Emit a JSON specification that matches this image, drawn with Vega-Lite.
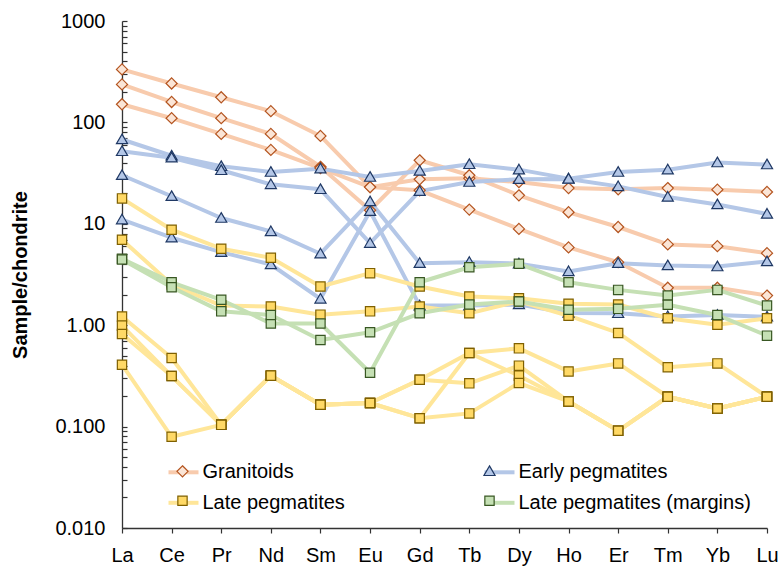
{
  "$schema": "https://vega.github.io/schema/vega-lite/v6.json",
  "width": 645,
  "height": 507,
  "autosize": {"type": "none"},
  "padding": {"left": 122, "top": 21, "right": 14, "bottom": 38},
  "background": "white",
  "config": {
    "view": {"stroke": null},
    "font": "Liberation Sans",
    "axis": {"grid": false, "domainColor": "#333333", "tickColor": "#333333", "domainWidth": 1.3, "tickWidth": 1.2, "labelColor": "#000000", "labelFontSize": 20, "labelFont": "Liberation Sans"}
  },
  "data": {"values": [
    {"sample":"G1","series":"Granitoids","el":"La","v":333},{"sample":"G1","series":"Granitoids","el":"Ce","v":242},{"sample":"G1","series":"Granitoids","el":"Pr","v":177},{"sample":"G1","series":"Granitoids","el":"Nd","v":129},{"sample":"G1","series":"Granitoids","el":"Sm","v":73.5},{"sample":"G1","series":"Granitoids","el":"Eu","v":23.0},{"sample":"G1","series":"Granitoids","el":"Gd","v":27.5},{"sample":"G1","series":"Granitoids","el":"Tb","v":28.1},{"sample":"G1","series":"Granitoids","el":"Dy","v":25.8},{"sample":"G1","series":"Granitoids","el":"Ho","v":22.5},{"sample":"G1","series":"Granitoids","el":"Er","v":21.9},{"sample":"G1","series":"Granitoids","el":"Tm","v":22.5},{"sample":"G1","series":"Granitoids","el":"Yb","v":21.7},{"sample":"G1","series":"Granitoids","el":"Lu","v":20.6},
    {"sample":"G2","series":"Granitoids","el":"La","v":237},{"sample":"G2","series":"Granitoids","el":"Ce","v":159},{"sample":"G2","series":"Granitoids","el":"Pr","v":110},{"sample":"G2","series":"Granitoids","el":"Nd","v":77},{"sample":"G2","series":"Granitoids","el":"Sm","v":36.5},{"sample":"G2","series":"Granitoids","el":"Eu","v":13.6},{"sample":"G2","series":"Granitoids","el":"Gd","v":42.3},{"sample":"G2","series":"Granitoids","el":"Tb","v":30.1},{"sample":"G2","series":"Granitoids","el":"Dy","v":19.1},{"sample":"G2","series":"Granitoids","el":"Ho","v":13.0},{"sample":"G2","series":"Granitoids","el":"Er","v":9.3},{"sample":"G2","series":"Granitoids","el":"Tm","v":6.26},{"sample":"G2","series":"Granitoids","el":"Yb","v":6.02},{"sample":"G2","series":"Granitoids","el":"Lu","v":5.13},
    {"sample":"G3","series":"Granitoids","el":"La","v":151},{"sample":"G3","series":"Granitoids","el":"Ce","v":110},{"sample":"G3","series":"Granitoids","el":"Pr","v":77},{"sample":"G3","series":"Granitoids","el":"Nd","v":53.5},{"sample":"G3","series":"Granitoids","el":"Sm","v":35.5},{"sample":"G3","series":"Granitoids","el":"Eu","v":23.0},{"sample":"G3","series":"Granitoids","el":"Gd","v":21.4},{"sample":"G3","series":"Granitoids","el":"Tb","v":13.8},{"sample":"G3","series":"Granitoids","el":"Dy","v":8.9},{"sample":"G3","series":"Granitoids","el":"Ho","v":5.85},{"sample":"G3","series":"Granitoids","el":"Er","v":4.18},{"sample":"G3","series":"Granitoids","el":"Tm","v":2.34},{"sample":"G3","series":"Granitoids","el":"Yb","v":2.34},{"sample":"G3","series":"Granitoids","el":"Lu","v":1.96},
    {"sample":"E1","series":"Early pegmatites","el":"La","v":67.8},{"sample":"E1","series":"Early pegmatites","el":"Ce","v":46.9},{"sample":"E1","series":"Early pegmatites","el":"Pr","v":36.9},{"sample":"E1","series":"Early pegmatites","el":"Nd","v":32.4},{"sample":"E1","series":"Early pegmatites","el":"Sm","v":35.0},{"sample":"E1","series":"Early pegmatites","el":"Eu","v":28.9},{"sample":"E1","series":"Early pegmatites","el":"Gd","v":33.2},{"sample":"E1","series":"Early pegmatites","el":"Tb","v":38.6},{"sample":"E1","series":"Early pegmatites","el":"Dy","v":34.2},{"sample":"E1","series":"Early pegmatites","el":"Ho","v":27.9},{"sample":"E1","series":"Early pegmatites","el":"Er","v":32.4},{"sample":"E1","series":"Early pegmatites","el":"Tm","v":34.2},{"sample":"E1","series":"Early pegmatites","el":"Yb","v":40.2},{"sample":"E1","series":"Early pegmatites","el":"Lu","v":38.4},
    {"sample":"E2","series":"Early pegmatites","el":"La","v":51.9},{"sample":"E2","series":"Early pegmatites","el":"Ce","v":44.8},{"sample":"E2","series":"Early pegmatites","el":"Pr","v":33.7},{"sample":"E2","series":"Early pegmatites","el":"Nd","v":24.5},{"sample":"E2","series":"Early pegmatites","el":"Sm","v":21.9},{"sample":"E2","series":"Early pegmatites","el":"Eu","v":6.45},{"sample":"E2","series":"Early pegmatites","el":"Gd","v":21.0},{"sample":"E2","series":"Early pegmatites","el":"Tb","v":25.8},{"sample":"E2","series":"Early pegmatites","el":"Dy","v":27.5},{"sample":"E2","series":"Early pegmatites","el":"Ho","v":27.7},{"sample":"E2","series":"Early pegmatites","el":"Er","v":23.4},{"sample":"E2","series":"Early pegmatites","el":"Tm","v":18.4},{"sample":"E2","series":"Early pegmatites","el":"Yb","v":15.5},{"sample":"E2","series":"Early pegmatites","el":"Lu","v":12.5},
    {"sample":"E3","series":"Early pegmatites","el":"La","v":30.1},{"sample":"E3","series":"Early pegmatites","el":"Ce","v":18.7},{"sample":"E3","series":"Early pegmatites","el":"Pr","v":11.4},{"sample":"E3","series":"Early pegmatites","el":"Nd","v":8.41},{"sample":"E3","series":"Early pegmatites","el":"Sm","v":5.07},{"sample":"E3","series":"Early pegmatites","el":"Eu","v":16.6},{"sample":"E3","series":"Early pegmatites","el":"Gd","v":4.09},{"sample":"E3","series":"Early pegmatites","el":"Tb","v":4.18},{"sample":"E3","series":"Early pegmatites","el":"Dy","v":4.05},{"sample":"E3","series":"Early pegmatites","el":"Ho","v":3.39},{"sample":"E3","series":"Early pegmatites","el":"Er","v":4.09},{"sample":"E3","series":"Early pegmatites","el":"Tm","v":3.88},{"sample":"E3","series":"Early pegmatites","el":"Yb","v":3.79},{"sample":"E3","series":"Early pegmatites","el":"Lu","v":4.25},
    {"sample":"E4","series":"Early pegmatites","el":"La","v":11.0},{"sample":"E4","series":"Early pegmatites","el":"Ce","v":7.29},{"sample":"E4","series":"Early pegmatites","el":"Pr","v":5.25},{"sample":"E4","series":"Early pegmatites","el":"Nd","v":3.97},{"sample":"E4","series":"Early pegmatites","el":"Sm","v":1.82},{"sample":"E4","series":"Early pegmatites","el":"Eu","v":13.3},{"sample":"E4","series":"Early pegmatites","el":"Gd","v":1.56},{"sample":"E4","series":"Early pegmatites","el":"Tb","v":1.56},{"sample":"E4","series":"Early pegmatites","el":"Dy","v":1.60},{"sample":"E4","series":"Early pegmatites","el":"Ho","v":1.32},{"sample":"E4","series":"Early pegmatites","el":"Er","v":1.31},{"sample":"E4","series":"Early pegmatites","el":"Tm","v":1.22},{"sample":"E4","series":"Early pegmatites","el":"Yb","v":1.26},{"sample":"E4","series":"Early pegmatites","el":"Lu","v":1.21},
    {"sample":"L1","series":"Late pegmatites","el":"La","v":17.8},{"sample":"L1","series":"Late pegmatites","el":"Ce","v":8.74},{"sample":"L1","series":"Late pegmatites","el":"Pr","v":5.68},{"sample":"L1","series":"Late pegmatites","el":"Nd","v":4.62},{"sample":"L1","series":"Late pegmatites","el":"Sm","v":2.41},{"sample":"L1","series":"Late pegmatites","el":"Eu","v":3.26},{"sample":"L1","series":"Late pegmatites","el":"Gd","v":2.41},{"sample":"L1","series":"Late pegmatites","el":"Tb","v":1.92},{"sample":"L1","series":"Late pegmatites","el":"Dy","v":1.84},{"sample":"L1","series":"Late pegmatites","el":"Ho","v":1.63},{"sample":"L1","series":"Late pegmatites","el":"Er","v":1.60},{"sample":"L1","series":"Late pegmatites","el":"Tm","v":1.17},{"sample":"L1","series":"Late pegmatites","el":"Yb","v":1.01},{"sample":"L1","series":"Late pegmatites","el":"Lu","v":1.17},
    {"sample":"L2","series":"Late pegmatites","el":"La","v":6.96},{"sample":"L2","series":"Late pegmatites","el":"Ce","v":2.52},{"sample":"L2","series":"Late pegmatites","el":"Pr","v":1.56},{"sample":"L2","series":"Late pegmatites","el":"Nd","v":1.53},{"sample":"L2","series":"Late pegmatites","el":"Sm","v":1.27},{"sample":"L2","series":"Late pegmatites","el":"Eu","v":1.37},{"sample":"L2","series":"Late pegmatites","el":"Gd","v":1.53},{"sample":"L2","series":"Late pegmatites","el":"Tb","v":1.31},{"sample":"L2","series":"Late pegmatites","el":"Dy","v":1.72},{"sample":"L2","series":"Late pegmatites","el":"Ho","v":1.24},{"sample":"L2","series":"Late pegmatites","el":"Er","v":0.839},{"sample":"L2","series":"Late pegmatites","el":"Tm","v":0.385},{"sample":"L2","series":"Late pegmatites","el":"Yb","v":0.42},{"sample":"L2","series":"Late pegmatites","el":"Lu","v":0.197},
    {"sample":"L3","series":"Late pegmatites","el":"La","v":1.22},{"sample":"L3","series":"Late pegmatites","el":"Ce","v":0.475},{"sample":"L3","series":"Late pegmatites","el":"Pr","v":0.104},{"sample":"L3","series":"Late pegmatites","el":"Nd","v":0.318},{"sample":"L3","series":"Late pegmatites","el":"Sm","v":0.164},{"sample":"L3","series":"Late pegmatites","el":"Eu","v":0.171},{"sample":"L3","series":"Late pegmatites","el":"Gd","v":0.29},{"sample":"L3","series":"Late pegmatites","el":"Tb","v":0.532},{"sample":"L3","series":"Late pegmatites","el":"Dy","v":0.591},{"sample":"L3","series":"Late pegmatites","el":"Ho","v":0.35},{"sample":"L3","series":"Late pegmatites","el":"Er","v":0.42},{"sample":"L3","series":"Late pegmatites","el":"Tm","v":0.197},{"sample":"L3","series":"Late pegmatites","el":"Yb","v":0.151},{"sample":"L3","series":"Late pegmatites","el":"Lu","v":0.197},
    {"sample":"L4","series":"Late pegmatites","el":"La","v":0.99},{"sample":"L4","series":"Late pegmatites","el":"Ce","v":0.315},{"sample":"L4","series":"Late pegmatites","el":"Pr","v":0.104},{"sample":"L4","series":"Late pegmatites","el":"Nd","v":0.318},{"sample":"L4","series":"Late pegmatites","el":"Sm","v":0.164},{"sample":"L4","series":"Late pegmatites","el":"Eu","v":0.171},{"sample":"L4","series":"Late pegmatites","el":"Gd","v":0.29},{"sample":"L4","series":"Late pegmatites","el":"Tb","v":0.267},{"sample":"L4","series":"Late pegmatites","el":"Dy","v":0.399},{"sample":"L4","series":"Late pegmatites","el":"Ho","v":0.177},{"sample":"L4","series":"Late pegmatites","el":"Er","v":0.0909},{"sample":"L4","series":"Late pegmatites","el":"Tm","v":0.197},{"sample":"L4","series":"Late pegmatites","el":"Yb","v":0.151},{"sample":"L4","series":"Late pegmatites","el":"Lu","v":0.197},
    {"sample":"L5","series":"Late pegmatites","el":"La","v":0.82},{"sample":"L5","series":"Late pegmatites","el":"Ce","v":0.315},{"sample":"L5","series":"Late pegmatites","el":"Pr","v":0.104},{"sample":"L5","series":"Late pegmatites","el":"Nd","v":0.318},{"sample":"L5","series":"Late pegmatites","el":"Sm","v":0.164},{"sample":"L5","series":"Late pegmatites","el":"Eu","v":0.171},{"sample":"L5","series":"Late pegmatites","el":"Gd","v":0.121},{"sample":"L5","series":"Late pegmatites","el":"Tb","v":0.532},{"sample":"L5","series":"Late pegmatites","el":"Dy","v":0.318},{"sample":"L5","series":"Late pegmatites","el":"Ho","v":0.177},{"sample":"L5","series":"Late pegmatites","el":"Er","v":0.0909},{"sample":"L5","series":"Late pegmatites","el":"Tm","v":0.197},{"sample":"L5","series":"Late pegmatites","el":"Yb","v":0.151},{"sample":"L5","series":"Late pegmatites","el":"Lu","v":0.197},
    {"sample":"L6","series":"Late pegmatites","el":"La","v":0.408},{"sample":"L6","series":"Late pegmatites","el":"Ce","v":0.0793},{"sample":"L6","series":"Late pegmatites","el":"Pr","v":0.104},{"sample":"L6","series":"Late pegmatites","el":"Nd","v":0.318},{"sample":"L6","series":"Late pegmatites","el":"Sm","v":0.164},{"sample":"L6","series":"Late pegmatites","el":"Eu","v":0.171},{"sample":"L6","series":"Late pegmatites","el":"Gd","v":0.121},{"sample":"L6","series":"Late pegmatites","el":"Tb","v":0.135},{"sample":"L6","series":"Late pegmatites","el":"Dy","v":0.269},{"sample":"L6","series":"Late pegmatites","el":"Ho","v":0.177},{"sample":"L6","series":"Late pegmatites","el":"Er","v":0.0909},{"sample":"L6","series":"Late pegmatites","el":"Tm","v":0.197},{"sample":"L6","series":"Late pegmatites","el":"Yb","v":0.151},{"sample":"L6","series":"Late pegmatites","el":"Lu","v":0.197},
    {"sample":"M1","series":"Late pegmatites (margins)","el":"La","v":4.52},{"sample":"M1","series":"Late pegmatites (margins)","el":"Ce","v":2.65},{"sample":"M1","series":"Late pegmatites (margins)","el":"Pr","v":1.78},{"sample":"M1","series":"Late pegmatites (margins)","el":"Nd","v":1.04},{"sample":"M1","series":"Late pegmatites (margins)","el":"Sm","v":1.04},{"sample":"M1","series":"Late pegmatites (margins)","el":"Eu","v":0.34},{"sample":"M1","series":"Late pegmatites (margins)","el":"Gd","v":2.65},{"sample":"M1","series":"Late pegmatites (margins)","el":"Tb","v":3.73},{"sample":"M1","series":"Late pegmatites (margins)","el":"Dy","v":4.03},{"sample":"M1","series":"Late pegmatites (margins)","el":"Ho","v":2.65},{"sample":"M1","series":"Late pegmatites (margins)","el":"Er","v":2.23},{"sample":"M1","series":"Late pegmatites (margins)","el":"Tm","v":1.96},{"sample":"M1","series":"Late pegmatites (margins)","el":"Yb","v":2.23},{"sample":"M1","series":"Late pegmatites (margins)","el":"Lu","v":1.56},
    {"sample":"M2","series":"Late pegmatites (margins)","el":"La","v":4.45},{"sample":"M2","series":"Late pegmatites (margins)","el":"Ce","v":2.37},{"sample":"M2","series":"Late pegmatites (margins)","el":"Pr","v":1.37},{"sample":"M2","series":"Late pegmatites (margins)","el":"Nd","v":1.26},{"sample":"M2","series":"Late pegmatites (margins)","el":"Sm","v":0.715},{"sample":"M2","series":"Late pegmatites (margins)","el":"Eu","v":0.851},{"sample":"M2","series":"Late pegmatites (margins)","el":"Gd","v":1.31},{"sample":"M2","series":"Late pegmatites (margins)","el":"Tb","v":1.60},{"sample":"M2","series":"Late pegmatites (margins)","el":"Dy","v":1.71},{"sample":"M2","series":"Late pegmatites (margins)","el":"Ho","v":1.42},{"sample":"M2","series":"Late pegmatites (margins)","el":"Er","v":1.45},{"sample":"M2","series":"Late pegmatites (margins)","el":"Tm","v":1.59},{"sample":"M2","series":"Late pegmatites (margins)","el":"Yb","v":1.26},{"sample":"M2","series":"Late pegmatites (margins)","el":"Lu","v":0.789}
  ]},
  "encoding": {
    "x": {"field": "el", "type": "nominal", "scale": {"type": "point", "padding": 0, "domain": ["La","Ce","Pr","Nd","Sm","Eu","Gd","Tb","Dy","Ho","Er","Tm","Yb","Lu"]},
      "axis": {"title": null, "labelAngle": 0, "tickSize": 5, "labelPadding": 12}},
    "y": {"field": "v", "type": "quantitative", "scale": {"type": "log", "domain": [0.01, 1000], "nice": false},
      "axis": {"title": "Sample/chondrite", "titleFontSize": 20, "titleFont": "Liberation Sans", "titleFontWeight": "bold", "titleColor": "#000000", "titlePadding": 24,
        "values": [0.01,0.02,0.03,0.04,0.05,0.06,0.07,0.08,0.09,0.1,0.2,0.3,0.4,0.5,0.6,0.7,0.8,0.9,1,2,3,4,5,6,7,8,9,10,20,30,40,50,60,70,80,90,100,200,300,400,500,600,700,800,900,1000],
        "labelExpr": "datum.value == 0.01 ? '0.010' : datum.value == 0.1 ? '0.100' : datum.value == 1 ? '1.00' : (datum.value == 10 || datum.value == 100 || datum.value == 1000) ? format(datum.value, 'd') : ''",
        "tickSize": -5, "labelPadding": 22, "labelFlush": false, "labelOverlap": false}}
  },
  "layer": [
    {
      "transform": [{"calculate": "datum.series", "as": "grp"}],
      "mark": {"type": "line", "strokeWidth": 4, "strokeJoin": "round"},
      "encoding": {
        "detail": {"field": "sample"},
        "color": {"field": "grp", "type": "nominal",
          "sort": ["Granitoids","Early pegmatites","Late pegmatites","Late pegmatites (margins)"],
          "scale": {"range": ["#F8CBAD","#B4C7E7","#FFE699","#C5E0B4"]},
          "legend": {"orient": "none", "legendX": 44.5, "legendY": 434.3, "direction": "horizontal", "columns": 2, "columnPadding": 131, "rowPadding": 3.5, "symbolType": "stroke", "symbolSize": 900, "symbolStrokeWidth": 4, "labelFontSize": 20, "labelFont": "Liberation Sans", "labelColor": "#000000", "labelOffset": 2, "labelLimit": 400, "title": null, "padding": 0}}
      }
    },
    {
      "mark": {"type": "point", "size": 900, "strokeWidth": 1.2, "opacity": 1, "fillOpacity": 1},
      "encoding": {
        "shape": {"field": "series", "type": "nominal",
          "scale": {"domain": ["Granitoids","Early pegmatites","Late pegmatites","Late pegmatites (margins)"], "range": ["M0,-0.37L0.37,0L0,0.37L-0.37,0Z","M0,-0.36L0.37,0.28L-0.37,0.28Z","M-0.31,-0.31L0.31,-0.31L0.31,0.31L-0.31,0.31Z","M-0.31,-0.31L0.31,-0.31L0.31,0.31L-0.31,0.31Z"]},
          "legend": {"orient": "none", "legendX": 44.5, "legendY": 434.3, "direction": "horizontal", "columns": 2, "columnPadding": 273, "rowPadding": 3.5, "symbolSize": 900, "symbolStrokeWidth": 1.2, "labelFontSize": 20, "labelFont": "Liberation Sans", "labelExpr": "''", "labelOffset": 2, "labelLimit": 400, "title": null, "padding": 0}},
        "fill": {"field": "series", "type": "nominal",
          "scale": {"domain": ["Granitoids","Early pegmatites","Late pegmatites","Late pegmatites (margins)"], "range": ["#FBE5D6","#B4C7E7","#FFD966","#C5E0B4"]},
          "legend": {"orient": "none", "legendX": 44.5, "legendY": 434.3, "direction": "horizontal", "columns": 2, "columnPadding": 273, "rowPadding": 3.5, "symbolSize": 900, "symbolStrokeWidth": 1.2, "labelFontSize": 20, "labelFont": "Liberation Sans", "labelExpr": "''", "labelOffset": 2, "labelLimit": 400, "title": null, "padding": 0}},
        "stroke": {"field": "series", "type": "nominal",
          "scale": {"domain": ["Granitoids","Early pegmatites","Late pegmatites","Late pegmatites (margins)"], "range": ["#B4541F","#1F3864","#7F6000","#385723"]},
          "legend": {"orient": "none", "legendX": 44.5, "legendY": 434.3, "direction": "horizontal", "columns": 2, "columnPadding": 273, "rowPadding": 3.5, "symbolSize": 900, "symbolStrokeWidth": 1.2, "labelFontSize": 20, "labelFont": "Liberation Sans", "labelExpr": "''", "labelOffset": 2, "labelLimit": 400, "title": null, "padding": 0}}
      }
    }
  ]
}
